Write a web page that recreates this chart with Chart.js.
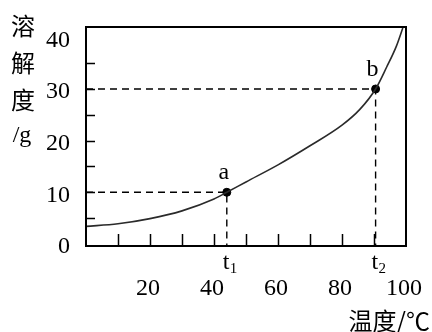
<!DOCTYPE html>
<html>
<head>
<meta charset="utf-8">
<script src="https://cdn.jsdelivr.net/npm/chart.js@4.4.1/dist/chart.umd.min.js"></script>
<style>
  html, body { margin: 0; padding: 0; background: #fff; }
  #wrap { width: 432px; height: 332px; position: relative; }
</style>
</head>
<body>
<div id="wrap"><canvas id="solubilityChart"></canvas></div>
<script>
// Data
var temps      = [0, 10, 20, 30, 40, 44, 50, 60, 70, 80, 85.5, 90.5, 94, 97, 99];
var solubility = [3.4, 3.9, 4.9, 6.4, 8.7, 10, 12.0, 15.3, 19.0, 23.0, 26.0, 30, 34.3, 38.3, 41.8];
var xTicks = [20, 40, 60, 80, 100];
var yTicks = [0, 10, 20, 30, 40];
var xMinorTicks = [10, 20, 30, 40, 50, 60, 70, 80, 90];
var yMinorTicks = [5, 10, 15, 20, 25, 30, 35];
var markedPoints = [{ name: 'a', t: 't1', x: 44, y: 10 }, { name: 'b', t: 't2', x: 90.5, y: 30 }];

var X_MIN = 0, X_MAX = 100, Y_MIN = -0.4, Y_MAX = 42;
var serif = '"Liberation Serif", "Times New Roman", serif';
var cjk = '"Noto Sans CJK SC", sans-serif';

var curve = temps.map(function (t, i) { return { x: t, y: solubility[i] }; });

var datasets = [{
    data: curve,
    showLine: true,
    borderColor: '#2a2a2a',
    borderWidth: 1.6,
    pointRadius: 0,
    cubicInterpolationMode: 'monotone'
}];

// dashed guides from each marked point to both axes
markedPoints.forEach(function (p) {
    datasets.push({
        data: [{ x: X_MIN, y: p.y }, { x: p.x, y: p.y }, { x: p.x, y: Y_MIN }],
        showLine: true,
        borderColor: '#000',
        borderWidth: 1.4,
        borderDash: [7, 5],
        pointRadius: 0,
        tension: 0
    });
});

datasets.push({
    data: markedPoints.map(function (p) { return { x: p.x, y: p.y }; }),
    showLine: false,
    pointRadius: 4,
    pointBackgroundColor: '#000',
    pointBorderColor: '#000'
});

// frame, inner ticks and text labels
var decorations = {
    id: 'decorations',
    afterDraw: function (chart) {
        var ctx = chart.ctx;
        var area = chart.chartArea;
        var xs = chart.scales.x, ys = chart.scales.y;
        ctx.save();
        ctx.strokeStyle = '#000';
        ctx.lineWidth = 2;
        ctx.strokeRect(area.left, area.top, area.right - area.left, area.bottom - area.top);

        ctx.lineWidth = 1.5;
        ctx.beginPath();
        xMinorTicks.forEach(function (v) {
            var px = Math.round(xs.getPixelForValue(v)) + 0.5;
            ctx.moveTo(px, area.bottom);
            ctx.lineTo(px, area.bottom - 12);
        });
        yMinorTicks.forEach(function (v) {
            var py = Math.round(ys.getPixelForValue(v)) + 0.5;
            ctx.moveTo(area.left, py);
            ctx.lineTo(area.left + 9, py);
        });
        ctx.stroke();

        ctx.fillStyle = '#000';
        ctx.textBaseline = 'alphabetic';
        markedPoints.forEach(function (p) {
            var px = xs.getPixelForValue(p.x);
            var py = ys.getPixelForValue(p.y);
            ctx.font = '24px ' + serif;
            ctx.textAlign = 'center';
            ctx.fillText(p.name, px - 3, py - 13);
            // t with subscript under the axis
            ctx.textAlign = 'left';
            ctx.font = '24px ' + serif;
            ctx.fillText('t', px - 4, area.bottom + 23);
            ctx.font = '15px ' + serif;
            ctx.fillText(p.t.charAt(1), px + 3, area.bottom + 27);
        });

        // y axis title, stacked
        ctx.textAlign = 'center';
        ctx.textBaseline = 'middle';
        ctx.font = '24px ' + cjk;
        ctx.fillText('溶', 23, 26);
        ctx.fillText('解', 23, 63);
        ctx.fillText('度', 23, 100);
        ctx.font = '24px ' + serif;
        ctx.fillText('/g', 22, 136);

        // x axis title
        ctx.textAlign = 'right';
        ctx.font = '24px ' + cjk;
        ctx.fillText('温度/℃', 430, 321);
        ctx.restore();
    }
};

new Chart(document.getElementById('solubilityChart'), {
    type: 'scatter',
    data: { datasets: datasets },
    options: {
        responsive: true,
        maintainAspectRatio: false,
        animation: false,
        events: [],
        layout: { padding: { top: 27, right: 26, left: 0, bottom: 0 } },
        plugins: { legend: { display: false }, tooltip: { enabled: false } },
        scales: {
            x: {
                type: 'linear',
                min: X_MIN,
                max: X_MAX,
                grid: { display: false },
                border: { display: false },
                afterBuildTicks: function (scale) {
                    scale.ticks = xTicks.map(function (v) { return { value: v }; });
                },
                afterFit: function (scale) {
                    scale.height = 86;
                    scale.paddingLeft = 0;
                    scale.paddingRight = 0;
                },
                ticks: {
                    color: '#000',
                    padding: 20,
                    labelOffset: -2,
                    maxRotation: 0,
                    autoSkip: false,
                    font: { family: serif, size: 24 }
                }
            },
            y: {
                type: 'linear',
                min: Y_MIN,
                max: Y_MAX,
                grid: { display: false },
                border: { display: false },
                afterBuildTicks: function (scale) {
                    scale.ticks = yTicks.map(function (v) { return { value: v }; });
                },
                afterFit: function (scale) {
                    scale.width = 86;
                    scale.paddingTop = 0;
                    scale.paddingBottom = 0;
                },
                ticks: {
                    color: '#000',
                    padding: 8,
                    labelOffset: 3,
                    autoSkip: false,
                    font: { family: serif, size: 24 }
                }
            }
        }
    },
    plugins: [decorations]
});
</script>
</body>
</html>
